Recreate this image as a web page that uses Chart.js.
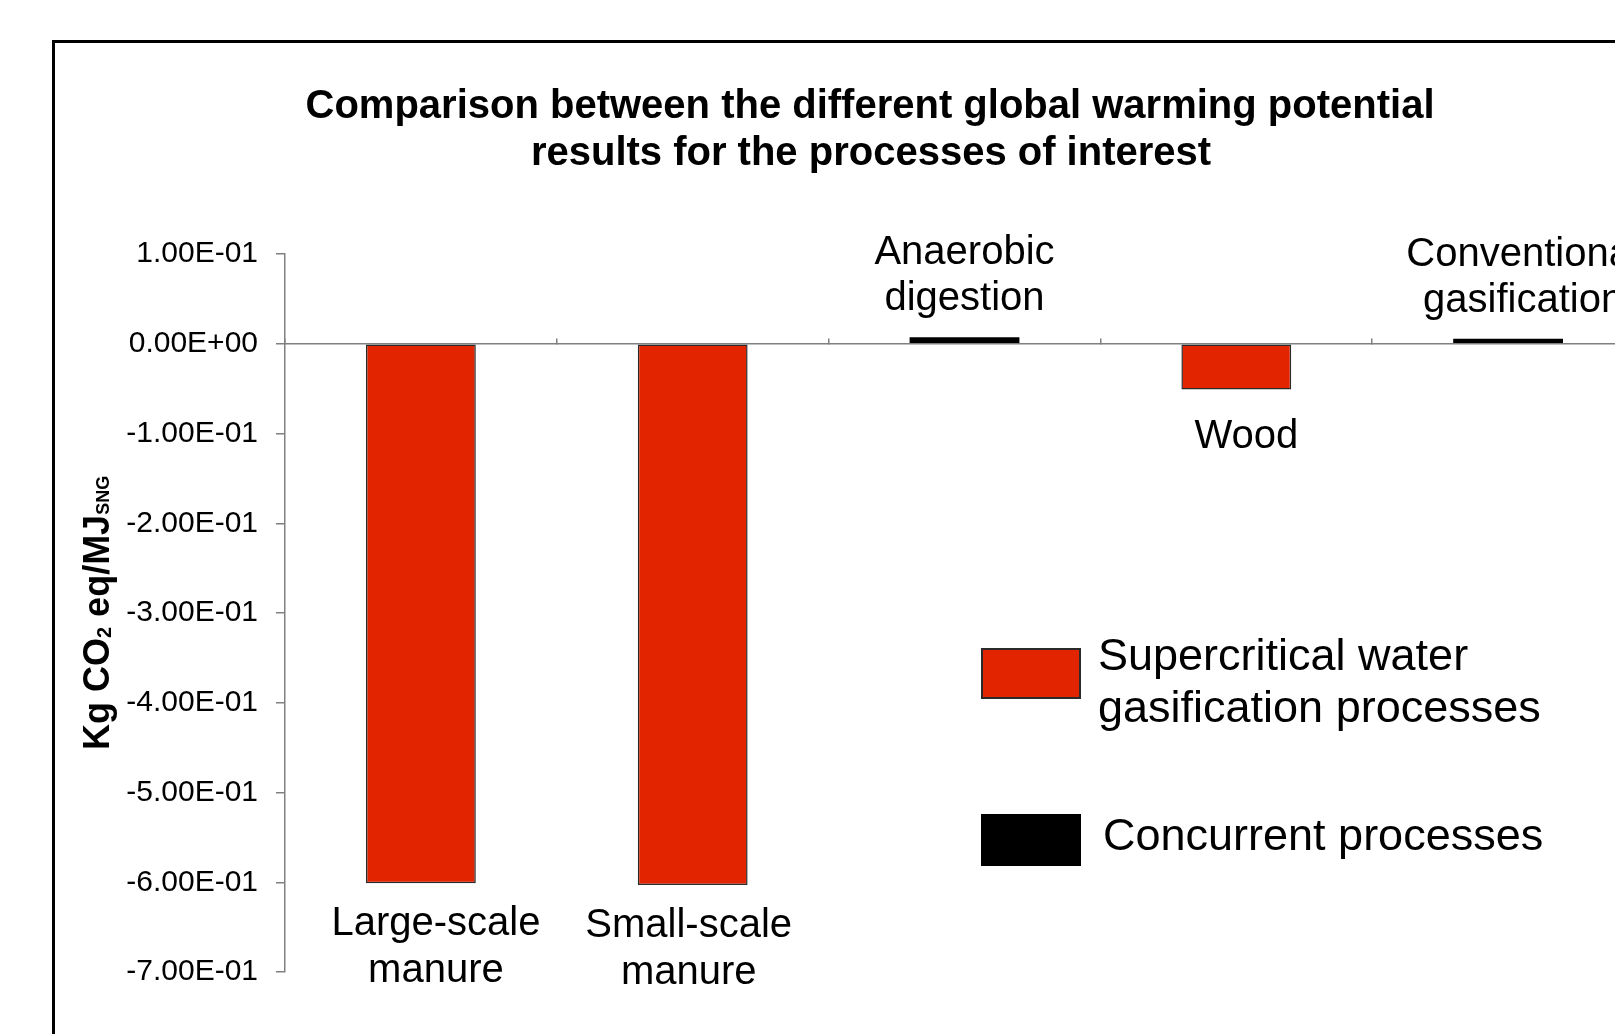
<!DOCTYPE html>
<html>
<head>
<meta charset="utf-8">
<script src="https://cdn.jsdelivr.net/npm/chart.js@4.4.1/dist/chart.umd.min.js"></script>
<style>
    html, body { margin: 0; padding: 0; background: #fff; overflow: hidden; width: 1615px; height: 1034px; }
    #frame { position: absolute; left: 52px; top: 40px; width: 2000px; height: 2000px; border: 3px solid #000; }
    #gwp { position: absolute; left: 0; top: 0; }
</style>
</head>
<body>
<div id="frame"></div>
<canvas id="gwp" width="1644" height="1034"></canvas>
<script>
// Categories (label lines as shown on the chart)
const categories = ['Large-scale manure', 'Small-scale manure', 'Anaerobic digestion', 'Wood', 'Conventional gasification'];
const categoryLines = [['Large-scale', 'manure'], ['Small-scale', 'manure'], ['Anaerobic', 'digestion'], ['Wood'], ['Conventional', 'gasification']];

// Kg CO2 eq / MJ SNG
const scwgValues = [-0.601, -0.603, null, -0.051, null];
const concurrentValues = [null, null, 0.0073, null, 0.0055];

const yMin = -0.7;
const yMax = 0.1;
const yStep = 0.1;

const legendLines = [['Supercritical water', 'gasification processes'], ['Concurrent processes']];
const titleLines = ['Comparison between the different global warming potential', 'results for the processes of interest'];

const FONT = "'Liberation Sans', Arial, sans-serif";
const labelShift = [15, -4, 0, 10, 15];
const labelDrop = [0, 0, 0, 6, 0];

function sciLabel(v) {
    const [m, e] = Number(v).toExponential(2).split('e');
    return m + 'E' + e[0] + e.slice(1).padStart(2, '0');
}

// Title, axis title, bar labels and legend
const annotations = {
    id: 'annotations',
    afterDraw(chart) {
        const ctx = chart.ctx;
        ctx.save();
        ctx.fillStyle = '#000';
        ctx.textBaseline = 'alphabetic';

        // Title
        ctx.font = 'bold 40px ' + FONT;
        ctx.textAlign = 'center';
        ctx.fillText(titleLines[0], 870, 118);
        ctx.fillText(titleLines[1], 871, 165);

        // Y axis title with subscripts
        ctx.save();
        ctx.translate(109, 750);
        ctx.rotate(-Math.PI / 2);
        ctx.textAlign = 'left';
        let x = 0;
        const parts = [['Kg CO', 36, 0], ['2', 20, 2], [' eq/MJ', 36, 0], ['SNG', 18, 0]];
        parts.forEach(([t, size, dy]) => {
            ctx.font = 'bold ' + size + 'px ' + FONT;
            ctx.fillText(t, x, dy);
            x += ctx.measureText(t).width;
        });
        ctx.restore();

        // Category labels at bar ends
        ctx.font = '40px ' + FONT;
        ctx.textAlign = 'center';
        categoryLines.forEach((lines, i) => {
            chart.data.datasets.forEach((ds, d) => {
                const v = ds.data[i];
                if (v === null) return;
                const bar = chart.getDatasetMeta(d).data[i];
                const cx = bar.x + labelShift[i];
                if (v < 0) {
                    lines.forEach((ln, k) => ctx.fillText(ln, cx, bar.y + 52 + labelDrop[i] + k * 47));
                } else {
                    const n = lines.length;
                    lines.forEach((ln, k) => ctx.fillText(ln, cx, bar.y - 27 - (n - 1 - k) * 46));
                }
            });
        });

        // Legend
        const boxes = [[982, 649, 98, 49], [982, 815, 98, 50]];
        const textPos = [[1098, 670], [1103, 850]];
        ctx.font = '45px ' + FONT;
        ctx.textAlign = 'left';
        chart.data.datasets.forEach((ds, d) => {
            const [bx, by, bw, bh] = boxes[d];
            ctx.fillStyle = ds.backgroundColor;
            ctx.fillRect(bx, by, bw, bh);
            ctx.strokeStyle = ds.borderColor;
            ctx.lineWidth = 2;
            ctx.strokeRect(bx, by, bw, bh);
            ctx.fillStyle = '#000';
            legendLines[d].forEach((ln, k) => ctx.fillText(ln, textPos[d][0], textPos[d][1] + k * 52));
        });
        ctx.restore();
    }
};

const ctx = document.getElementById('gwp').getContext('2d');
new Chart(ctx, {
    type: 'bar',
    data: {
        labels: categories,
        datasets: [{
            label: 'Supercritical water gasification processes',
            data: scwgValues,
            backgroundColor: '#e22400',
            borderColor: '#2a2a2a',
            borderWidth: 1.5,
            borderSkipped: false
        }, {
            label: 'Concurrent processes',
            data: concurrentValues,
            backgroundColor: '#000000',
            borderColor: '#000000',
            borderWidth: 0
        }]
    },
    options: {
        responsive: false,
        animation: false,
        devicePixelRatio: 1,
        grouped: false,
        barPercentage: 0.404,
        categoryPercentage: 1,
        layout: {
            padding: { left: 0, right: 0, top: 254, bottom: 62 }
        },
        scales: {
            x: {
                position: { y: 0 },
                ticks: { display: false },
                grid: {
                    offset: true,
                    drawOnChartArea: false,
                    drawTicks: true,
                    tickLength: -6,
                    color: '#808080',
                    lineWidth: 1.5
                },
                border: { color: '#808080', width: 1.5 }
            },
            y: {
                min: yMin,
                max: yMax,
                afterFit: (scale) => { scale.width = 285; },
                ticks: {
                    stepSize: yStep,
                    color: '#000',
                    padding: 18,
                    font: { family: FONT, size: 30 },
                    callback: (v) => sciLabel(v)
                },
                grid: {
                    drawOnChartArea: false,
                    drawTicks: true,
                    tickLength: 9,
                    color: '#808080',
                    lineWidth: 1.5
                },
                border: { color: '#808080', width: 1.5 }
            }
        },
        plugins: {
            legend: { display: false },
            tooltip: { enabled: false },
            title: { display: false }
        }
    },
    plugins: [annotations]
});
</script>
</body>
</html>
